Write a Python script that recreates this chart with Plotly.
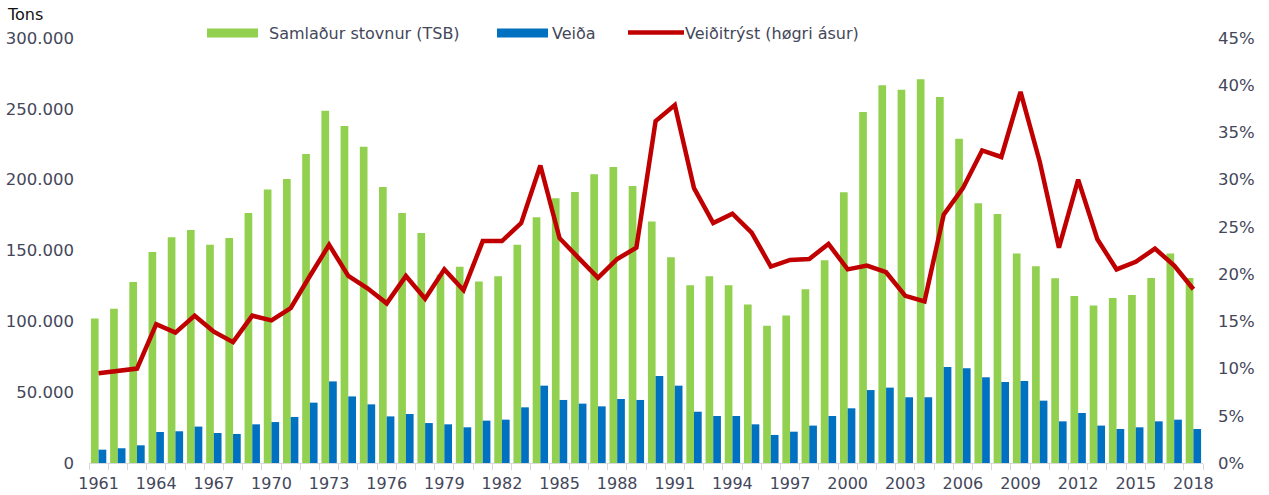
import plotly.graph_objects as go

# Years on the category axis
years = list(range(1961, 2019))

# Total stock biomass (tons)
tsb = [102000, 108900, 127800, 148900, 159300, 164500, 154100, 158800, 176500, 193000,
       200500, 218100, 248700, 237900, 223300, 194800, 176500, 162400, 133000, 138600,
       128200, 131800, 154100, 173400, 186800, 191300, 203800, 208900, 195500, 170400,
       145200, 125400, 131800, 125400, 111800, 96900, 104200, 122600, 143100, 191100,
       247800, 266600, 263500, 270800, 258400, 228900, 183300, 175800, 147800, 138800,
       130400, 117900, 111100, 116500, 118600, 130600, 147800, 130600]

# Catch (tons)
catch = [9400, 10400, 12500, 21900, 22400, 25700, 21200, 20500, 27300, 28900,
         32500, 42600, 57600, 47000, 41400, 32900, 34600, 28200, 27300, 25200,
         29900, 30600, 39300, 54600, 44500, 41900, 40000, 45200, 44500, 61400,
         54600, 36200, 33200, 33200, 27300, 19800, 22100, 26400, 33200, 38600,
         51500, 53200, 46400, 46400, 67800, 66800, 60500, 57200, 57900, 44000,
         29400, 35300, 26400, 24000, 25200, 29400, 30600, 24000]

# Fishing pressure (fraction, right axis)
pressure = [0.095, 0.097, 0.100, 0.147, 0.138, 0.156, 0.139, 0.128, 0.156, 0.151,
            0.164, 0.198, 0.231, 0.198, 0.185, 0.169, 0.198, 0.174, 0.205, 0.183,
            0.235, 0.235, 0.254, 0.315, 0.238, 0.217, 0.196, 0.216, 0.228, 0.362,
            0.379, 0.291, 0.254, 0.264, 0.244, 0.208, 0.215, 0.216, 0.232, 0.205,
            0.209, 0.202, 0.177, 0.171, 0.263, 0.291, 0.331, 0.324, 0.393, 0.319,
            0.228, 0.300, 0.237, 0.205, 0.213, 0.227, 0.209, 0.184]

tick_years = years[::3]
legend_names = ["Samlaður stovnur (TSB)", "Veiða", "Veiðitrýst (høgri ásur)"]

GREEN = "#92D050"
BLUE = "#0070C0"
RED = "#C00000"
TEXT = "#44475a"
FONT = "DejaVu Sans"

fig = go.Figure()
fig.add_trace(go.Bar(x=years, y=tsb, name=legend_names[0], marker_color=GREEN,
                     marker_line_width=0))
fig.add_trace(go.Bar(x=years, y=catch, name=legend_names[1], marker_color=BLUE,
                     marker_line_width=0))
fig.add_trace(go.Scatter(x=years, y=pressure, name=legend_names[2], yaxis="y2",
                         mode="lines", line=dict(color=RED, width=4.5)))

W, H = 1269, 495
ML, MR, MT, MB = 89, 66, 38, 32
PW, PH = W - ML - MR, H - MT - MB


def px(x):
    return (x - ML) / PW


def py(y):
    return (H - MB - y) / PH


# Legend drawn along the top
shapes = [
    dict(type="rect", xref="paper", yref="paper", x0=px(207), x1=px(258),
         y0=py(37.5), y1=py(28.5), fillcolor=GREEN, line_width=0),
    dict(type="rect", xref="paper", yref="paper", x0=px(497), x1=px(548),
         y0=py(37.5), y1=py(28.5), fillcolor=BLUE, line_width=0),
    dict(type="line", xref="paper", yref="paper", x0=px(628), x1=px(684),
         y0=py(32.5), y1=py(32.5), line=dict(color=RED, width=4.5)),
]
annotations = [
    dict(text=legend_names[0], xref="paper", yref="paper", x=px(267), y=py(33),
         xanchor="left", yanchor="middle", showarrow=False,
         font=dict(family=FONT, size=16, color=TEXT)),
    dict(text=legend_names[1], xref="paper", yref="paper", x=px(550), y=py(33),
         xanchor="left", yanchor="middle", showarrow=False,
         font=dict(family=FONT, size=16, color=TEXT)),
    dict(text=legend_names[2], xref="paper", yref="paper", x=px(683), y=py(33),
         xanchor="left", yanchor="middle", showarrow=False,
         font=dict(family=FONT, size=16, color=TEXT)),
    dict(text="Tons", xref="paper", yref="paper", x=px(5), y=py(14),
         xanchor="left", yanchor="middle", showarrow=False,
         font=dict(family=FONT, size=16, color="#111111")),
]

fig.update_layout(
    width=W, height=H,
    margin=dict(l=ML, r=MR, t=MT, b=MB, pad=0, autoexpand=False),
    paper_bgcolor="white", plot_bgcolor="white",
    barmode="group", bargap=0.2, bargroupgap=0,
    showlegend=False,
    separators=",.",
    font=dict(family=FONT, size=16, color=TEXT),
    shapes=shapes, annotations=annotations,
    xaxis=dict(
        range=[1960.5, 2018.5], tickvals=tick_years, ticktext=[str(y) for y in tick_years],
        ticks="", showgrid=False, zeroline=False, automargin=False,
        showline=True, linecolor="#d9d9d9", linewidth=1,
        tickfont=dict(family=FONT, size=16, color=TEXT),
        ticklabelstandoff=6,
        minor=dict(tick0=1960.5, dtick=1, ticks="outside", ticklen=6,
                   tickcolor="#d9d9d9", tickwidth=1, showgrid=False),
    ),
    yaxis=dict(
        range=[0, 300000], dtick=50000, tickformat=",d", automargin=False,
        showgrid=False, zeroline=False, showline=False, ticks="",
        tickfont=dict(family=FONT, size=16.5, color=TEXT),
        ticklabelstandoff=14,
    ),
    yaxis2=dict(
        range=[0, 0.45], dtick=0.05, tickformat=".0%", overlaying="y", side="right",
        showgrid=False, zeroline=False, showline=False, ticks="", automargin=False,
        tickfont=dict(family=FONT, size=16.5, color=TEXT),
        ticklabelstandoff=14,
    ),
)

fig.write_html("out.html")
